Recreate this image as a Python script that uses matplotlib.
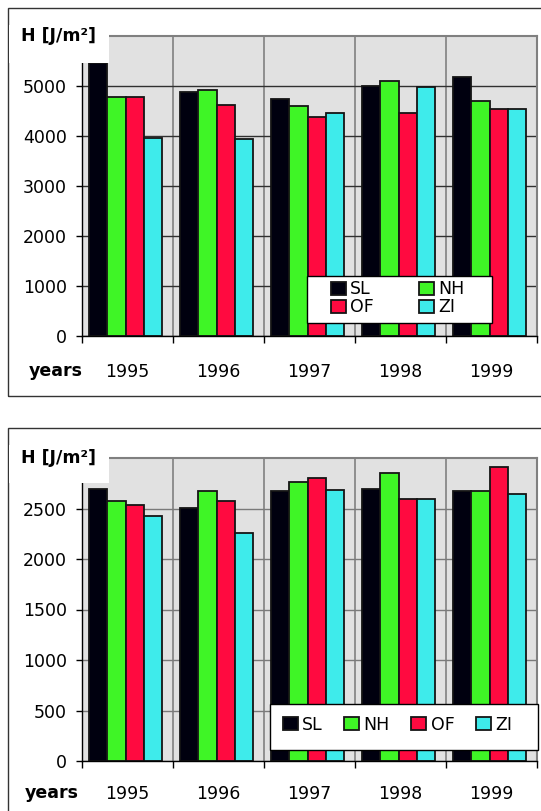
import numpy as np
import matplotlib.pyplot as plt
from matplotlib.patches import Rectangle

plt.rcParams['font.family'] = ['DejaVu Sans']

# ----------- data -----------
years = ["1995", "1996", "1997", "1998", "1999"]
stations = ["SL", "NH", "OF", "ZI"]

top_sl = [5450, 4880, 4730, 5000, 5180]
top_nh = [4780, 4910, 4600, 5100, 4690]
top_of = [4785, 4610, 4385, 4455, 4530]
top_zi = [3965, 3930, 4455, 4980, 4530]

bot_sl = [2690, 2505, 2675, 2690, 2675]
bot_nh = [2575, 2670, 2760, 2855, 2670]
bot_of = [2535, 2575, 2800, 2595, 2910]
bot_zi = [2425, 2255, 2685, 2595, 2645]

colors = ["#00000f", "#3ff526", "#ff0a40", "#3eebeb"]
# -------- end of data --------

W, H = 541, 811
FS = 12.5
fig = plt.figure(figsize=(W / 100, H / 100), dpi=100)


def px_axes(x0, y0, x1, y1):
    # pixel box (top-left origin) -> axes
    return fig.add_axes([x0 / W, 1 - y1 / H, (x1 - x0) / W, (y1 - y0) / H])


def px_rect(x0, y0, x1, y1, **kw):
    r = Rectangle((x0 / W, 1 - y1 / H), (x1 - x0) / W, (y1 - y0) / H,
                  transform=fig.transFigure, **kw)
    fig.add_artist(r)
    return r


def draw_chart(ax, series, ymax, ystep, hgrid_color, xpad):
    x = np.arange(len(years))
    width = 0.2
    handles = []
    for j, vals in enumerate(series):
        b = ax.bar(x + (j - 1.5) * width - 0.02, vals, width, color=colors[j],
                   edgecolor="#151515", linewidth=1.3, label=stations[j])
        handles.append(b)
    ax.set_xlim(-0.5, len(years) - 0.5)
    ax.set_ylim(0, ymax)
    ax.set_facecolor("#e1e1e1")
    ax.set_axisbelow(True)

    ax.set_yticks(np.arange(0, ymax, ystep))
    ax.yaxis.grid(True, color=hgrid_color, linewidth=1.0)
    ax.set_xticks(x)
    ax.set_xticklabels(years)
    ax.set_xticks(np.arange(-0.5, len(years)), minor=True)
    ax.xaxis.grid(True, which="minor", color="#808080", linewidth=1.2)
    ax.tick_params(axis="x", which="major", length=0, pad=xpad, labelsize=FS)
    ax.tick_params(axis="x", which="minor", length=5, direction="out", width=1)
    ax.tick_params(axis="y", length=4, width=1, pad=7, labelsize=FS)
    for s in ["left", "bottom"]:
        ax.spines[s].set_color("black")
        ax.spines[s].set_linewidth(1.0)
    for s in ["top", "right"]:
        ax.spines[s].set_color("#808080")
        ax.spines[s].set_linewidth(1.5)
    return handles


def legend_box(handles, labels, ncol, box, anchor, colsp):
    px_rect(*box, facecolor="white", edgecolor="black", linewidth=1.0, zorder=4)
    fig.legend(handles, labels, ncol=ncol, loc="upper left",
               bbox_to_anchor=(anchor[0] / W, 1 - anchor[1] / H),
               bbox_transform=fig.transFigure, fontsize=FS, frameon=False,
               borderpad=0, borderaxespad=0, labelspacing=0.0,
               handlelength=0.85, handleheight=0.8, handletextpad=0.25,
               columnspacing=colsp)


# ---- top chart ----
px_rect(8, 8, 560, 396, facecolor="none", edgecolor="#333333", linewidth=1.0)
ax1 = px_axes(82, 36, 537, 335.5)
h1 = draw_chart(ax1, [top_sl, top_nh, top_of, top_zi], 6000, 1000, "#303030", 20)
px_rect(8.7, 25, 109, 63, facecolor="white", edgecolor="none", zorder=5)
fig.text(21 / W, 1 - 36 / H, "H [J/m²]", fontsize=FS, fontweight="bold",
         va="center", ha="left", zorder=6)
fig.text(29 / W, 1 - 371 / H, "years", fontsize=FS, fontweight="bold",
         va="center", ha="left")
legend_box([h1[0], h1[2], h1[1], h1[3]], ["SL", "OF", "NH", "ZI"], 2,
           (307, 276.5, 492, 323), (331, 280.5), 2.6)

# ---- bottom chart ----
px_rect(8, 428, 560, 830, facecolor="none", edgecolor="#333333", linewidth=1.0)
ax2 = px_axes(82, 458, 537, 761)
h2 = draw_chart(ax2, [bot_sl, bot_nh, bot_of, bot_zi], 3000, 500, "#7a7a7a", 17.5)
px_rect(8.7, 445, 109, 483, facecolor="white", edgecolor="none", zorder=5)
fig.text(21 / W, 1 - 458 / H, "H [J/m²]", fontsize=FS, fontweight="bold",
         va="center", ha="left", zorder=6)
fig.text(25 / W, 1 - 793 / H, "years", fontsize=FS, fontweight="bold",
         va="center", ha="left")
legend_box(h2, stations, 4, (269.5, 703.5, 537.6, 750), (283, 715.5), 1.25)

fig.savefig("out.png", dpi=100)
